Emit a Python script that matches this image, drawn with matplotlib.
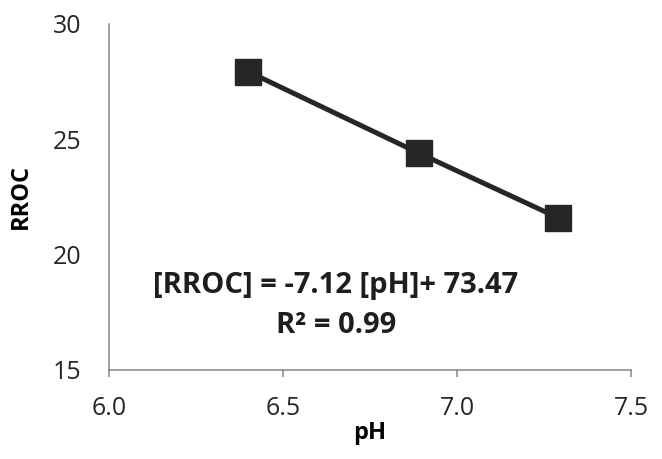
import matplotlib
matplotlib.use("Agg")
import matplotlib.pyplot as plt

plt.rcParams['font.family'] = ['Open Sans', 'DejaVu Sans']

ph = [6.40, 6.89, 7.29]
rroc = [27.93, 24.4, 21.6]

x_ticks = [6.0, 6.5, 7.0, 7.5]
y_ticks = [15, 20, 25, 30]

equation = "[RROC] = -7.12 [pH]+ 73.47"
r_squared = "R\u00b2 = 0.99"

fig = plt.figure(figsize=(6.62, 4.59), dpi=100)
ax = fig.add_axes([0.1647, 0.194, 0.7884, 0.754])

ax.plot(
    ph,
    rroc,
    color="#262626",
    linewidth=3.6,
    marker="s",
    markersize=19,
    markerfacecolor="#262626",
    markeredgecolor="#262626"
)

ax.set_xlim(6.0, 7.5)
ax.set_ylim(15, 30)
ax.set_xticks(x_ticks)
ax.set_xticklabels([f"{t:.1f}" for t in x_ticks])
ax.set_yticks(y_ticks)

for side in ["top", "right"]:
    ax.spines[side].set_visible(False)

for side in ["left", "bottom"]:
    ax.spines[side].set_color("#868686")
    ax.spines[side].set_linewidth(1.1)

ax.tick_params(axis="y", length=0, pad=20, labelsize=18, labelcolor="#262626")
ax.tick_params(axis="x", length=5, width=1.1, color="#868686", pad=14,
               labelsize=18, labelcolor="#262626")

ax.set_xlabel("pH", fontsize=17, fontweight="bold", labelpad=0)
ax.set_ylabel("RROC", fontsize=17, fontweight="bold", labelpad=14)

# regression equation, centred under the line
ax.text(6.652, 18.64, equation, ha="center", va="center",
        fontsize=21, fontweight="bold", color="#1e1e1e")
ax.text(6.652, 16.91, r_squared, ha="center", va="center",
        fontsize=21, fontweight="bold", color="#1e1e1e")

fig.savefig("out.png", dpi=100)
